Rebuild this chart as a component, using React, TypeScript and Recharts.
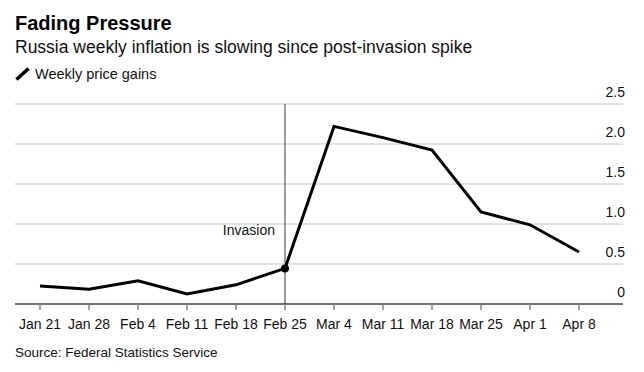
import React from 'react';
import { LineChart, Line, XAxis, YAxis, CartesianGrid, ReferenceLine, ReferenceDot } from 'recharts';

const dates = ['Jan 21', 'Jan 28', 'Feb 4', 'Feb 11', 'Feb 18', 'Feb 25', 'Mar 4', 'Mar 11', 'Mar 18', 'Mar 25', 'Apr 1', 'Apr 8'];
const weeklyGains = [0.225, 0.185, 0.29, 0.125, 0.24, 0.445, 2.22, 2.08, 1.925, 1.15, 0.99, 0.65];
const yTicks = [0, 0.5, 1, 1.5, 2, 2.5];
const invasionDate = 'Feb 25';
const invasionLabelValue = 0.925;

const data = dates.map((d, i) => ({ date: d, value: weeklyGains[i] }));

const FONT = '"Liberation Sans", Arial, Helvetica, sans-serif';

const renderYTick = (props: any) => {
  const { x, y, payload } = props;
  const v = Number(payload.value);
  const label = v === 0 ? '0' : v.toFixed(1);
  return (
    <text x={x + 2} y={y - 7} textAnchor="end" fontSize={14} fill="#111" fontFamily={FONT}>
      {label}
    </text>
  );
};

const renderDot = (props: any) => {
  const { cx, cy, index } = props;
  if (data[index] && data[index].date === invasionDate) {
    return <circle key={`d${index}`} cx={cx} cy={cy} r={4} fill="#000" stroke="none" />;
  }
  return <g key={`d${index}`} />;
};

export default function App() {
  return (
    <div style={{ position: 'fixed', left: 0, top: 0, width: 644, height: 372, background: '#fff', fontFamily: FONT, color: '#000', overflow: 'hidden' }}>
      <div style={{ position: 'absolute', left: 15, top: 12.5, fontSize: 20, fontWeight: 700, lineHeight: '20px', whiteSpace: 'nowrap' }}>
        Fading Pressure
      </div>
      <div style={{ position: 'absolute', left: 15, top: 39.2, fontSize: 17.5, lineHeight: '17.5px', whiteSpace: 'nowrap', color: '#111' }}>
        Russia weekly inflation is slowing since post-invasion spike
      </div>
      <svg style={{ position: 'absolute', left: 14, top: 66 }} width={18} height={16}>
        <line x1={2.5} y1={13.5} x2={14.5} y2={2.5} stroke="#000" strokeWidth={3.5} />
      </svg>
      <div style={{ position: 'absolute', left: 35, top: 67, fontSize: 14.5, lineHeight: '14.5px', whiteSpace: 'nowrap', color: '#111' }}>
        Weekly price gains
      </div>
      <div style={{ position: 'absolute', left: 15, top: 345.6, fontSize: 13.5, lineHeight: '13.5px', whiteSpace: 'nowrap', color: '#111' }}>
        Source: Federal Statistics Service
      </div>
      <div style={{ position: 'absolute', left: 0, top: 0 }}>
        <LineChart width={644} height={372} data={data} margin={{ top: 104, right: 1, bottom: 38, left: 15 }}>
          <CartesianGrid vertical={false} stroke="#e2e2e2" strokeWidth={2} />
          <XAxis
            dataKey="date"
            interval={0}
            padding={{ left: 25, right: 44 }}
            axisLine={{ stroke: '#000', strokeWidth: 1.2 }}
            tickLine={{ stroke: '#888', strokeWidth: 1.5 }}
            tickSize={6}
            tickMargin={9}
            tick={{ fontSize: 14, fill: '#111', fontFamily: FONT }}
            height={30}
          />
          <YAxis
            orientation="right"
            width={20}
            domain={[0, 2.5]}
            ticks={yTicks}
            axisLine={false}
            tickLine={false}
            tickSize={0}
            tickMargin={0}
            tick={renderYTick}
          />
          <ReferenceLine x={invasionDate} stroke="#777" strokeWidth={1.5} />
          <ReferenceDot
            x={invasionDate}
            y={invasionLabelValue}
            r={0}
            fill="none"
            stroke="none"
            label={{ value: 'Invasion', position: 'left', offset: 10, fontSize: 14, fill: '#111', fontFamily: FONT }}
          />
          <Line
            type="linear"
            dataKey="value"
            stroke="#000"
            strokeWidth={3}
            dot={renderDot}
            activeDot={false}
            isAnimationActive={false}
          />
        </LineChart>
      </div>
    </div>
  );
}
